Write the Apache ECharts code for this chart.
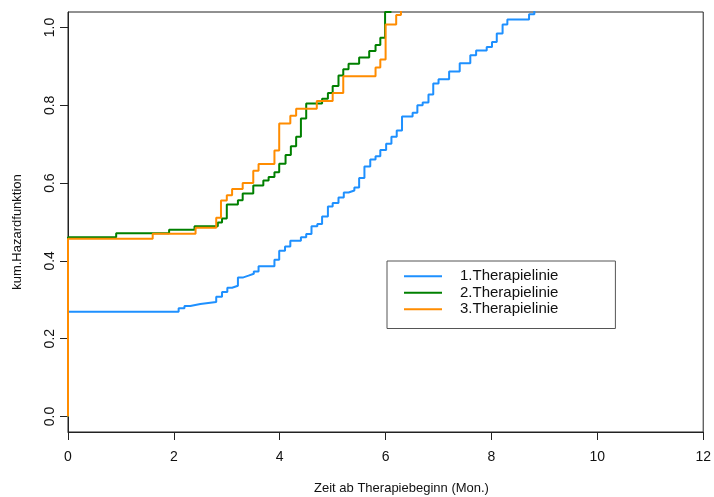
<!DOCTYPE html>
<html>
<head>
<meta charset="utf-8">
<script src="https://cdn.jsdelivr.net/npm/echarts@6/dist/echarts.min.js"></script>
<style>
html,body{margin:0;padding:0;background:#fff;}
#chart{width:714px;height:497px;}
</style>
</head>
<body>
<div id="chart"></div>
<script>
// ---- data ----
var seriesNames = ['1.Therapielinie', '2.Therapielinie', '3.Therapielinie'];
var xTicks = [0, 2, 4, 6, 8, 10, 12];
var yTicks = [0, 0.2, 0.4, 0.6, 0.8, 1.0];

var blueTimes = [0, 0, 2.09, 2.20, 2.31, 2.50, 2.80, 2.91, 3.01, 3.10, 3.21, 3.30, 3.41, 3.51, 3.60, 3.90, 3.99, 4.10, 4.20, 4.40, 4.50, 4.60, 4.71, 4.80, 4.91, 5.00, 5.11, 5.21, 5.30, 5.41, 5.50, 5.60, 5.71, 5.81, 5.90, 6.01, 6.11, 6.21, 6.31, 6.51, 6.60, 6.70, 6.81, 6.90, 7.00, 7.20, 7.40, 7.60, 7.71, 7.91, 8.01, 8.10, 8.21, 8.30, 8.71, 8.81];
var blueHaz = [0, 0.269, 0.278, 0.284, 0.289, 0.294, 0.308, 0.320, 0.331, 0.336, 0.357, 0.362, 0.367, 0.373, 0.386, 0.403, 0.426, 0.437, 0.452, 0.461, 0.469, 0.489, 0.495, 0.514, 0.540, 0.549, 0.563, 0.576, 0.581, 0.589, 0.613, 0.643, 0.661, 0.669, 0.685, 0.701, 0.719, 0.735, 0.771, 0.781, 0.800, 0.807, 0.828, 0.856, 0.867, 0.887, 0.908, 0.929, 0.941, 0.950, 0.963, 0.985, 1.008, 1.021, 1.034, 1.06];

var greenTimes = [0, 0, 0.91, 1.91, 2.39, 2.83, 2.91, 3.00, 3.21, 3.30, 3.50, 3.69, 3.79, 3.90, 3.99, 4.11, 4.21, 4.31, 4.40, 4.50, 4.80, 4.91, 5.00, 5.11, 5.20, 5.30, 5.50, 5.69, 5.81, 5.90, 5.99, 6.11];
var greenHaz = [0, 0.461, 0.471, 0.480, 0.489, 0.499, 0.509, 0.545, 0.556, 0.573, 0.594, 0.607, 0.616, 0.628, 0.650, 0.672, 0.695, 0.719, 0.766, 0.805, 0.817, 0.832, 0.850, 0.877, 0.893, 0.907, 0.923, 0.940, 0.955, 0.974, 1.04, 1.04];

var orangeTimes = [0, 0, 1.60, 2.41, 2.80, 2.89, 3.00, 3.10, 3.30, 3.50, 3.60, 3.90, 3.99, 4.20, 4.31, 4.70, 5.00, 5.20, 5.81, 5.90, 6.00, 6.20, 6.29];
var orangeHaz = [0, 0.457, 0.470, 0.485, 0.511, 0.555, 0.569, 0.585, 0.600, 0.632, 0.649, 0.684, 0.753, 0.773, 0.791, 0.811, 0.832, 0.875, 0.897, 0.918, 1.008, 1.032, 1.06];

var xTitle = 'Zeit ab Therapiebeginn (Mon.)';
var yTitle = 'kum.Hazardfunktion';

// ---- chart ----
function pairs(t, h) { return t.map(function (v, i) { return [v, h[i]]; }); }
var colors = ['#1E90FF', '#008000', '#FF8C00'];
var FONT = '"Liberation Sans", Arial, sans-serif';

var chart = echarts.init(document.getElementById('chart'), null, { renderer: 'canvas' });

var allData = [pairs(blueTimes, blueHaz), pairs(greenTimes, greenHaz), pairs(orangeTimes, orangeHaz)];

chart.setOption({
  animation: false,
  backgroundColor: '#fff',
  grid: { left: 68, right: 10, top: 12, bottom: 65, show: true, borderColor: '#222', borderWidth: 1, containLabel: false },
  xAxis: {
    type: 'value', min: 0, max: 12, interval: 2,
    axisLine: { show: true, onZero: false, lineStyle: { color: '#222', width: 1 } },
    axisTick: { show: true, length: 8, lineStyle: { color: '#222' }, customValues: xTicks },
    axisLabel: { color: '#111', fontSize: 14, fontFamily: FONT, margin: 18, customValues: xTicks },
    splitLine: { show: false }
  },
  yAxis: {
    type: 'value', min: -0.04, max: 1.04,
    axisLine: { show: true, onZero: false, lineStyle: { color: '#222', width: 1 } },
    axisTick: { show: true, length: 8, lineStyle: { color: '#222' }, customValues: yTicks },
    axisLabel: { color: '#111', fontSize: 14, fontFamily: FONT, margin: 11, rotate: 90,
      customValues: yTicks, formatter: function (v) { return v.toFixed(1); } },
    splitLine: { show: false }
  },
  legend: {
    orient: 'vertical', left: 387, top: 261,
    data: seriesNames.map(function (n) { return { name: n, icon: 'rect' }; }),
    itemWidth: 38, itemHeight: 2, itemGap: 0,
    padding: [7, 57, 11, 17],
    borderColor: '#555', borderWidth: 1, borderRadius: 0,
    textStyle: { fontSize: 15, fontFamily: FONT, color: '#111', lineHeight: 16.5, padding: [0, 0, 0, 13] },
    selectedMode: false
  },
  graphic: [
    { type: 'text', x: 401.5, y: 488, style: { text: xTitle, font: '13px ' + FONT, fill: '#111', textAlign: 'center', textVerticalAlign: 'middle' } },
    { type: 'text', rotation: Math.PI / 2, x: 17.5, y: 232, style: { text: yTitle, font: '13px ' + FONT, fill: '#111', textAlign: 'center', textVerticalAlign: 'middle' } }
  ],
  series: allData.map(function (d, i) {
    return {
      name: seriesNames[i], type: 'line', step: 'end', data: d,
      showSymbol: false, symbol: 'none', clip: true,
      lineStyle: { color: colors[i], width: 2 },
      itemStyle: { color: colors[i] }
    };
  })
});
</script>
</body>
</html>
